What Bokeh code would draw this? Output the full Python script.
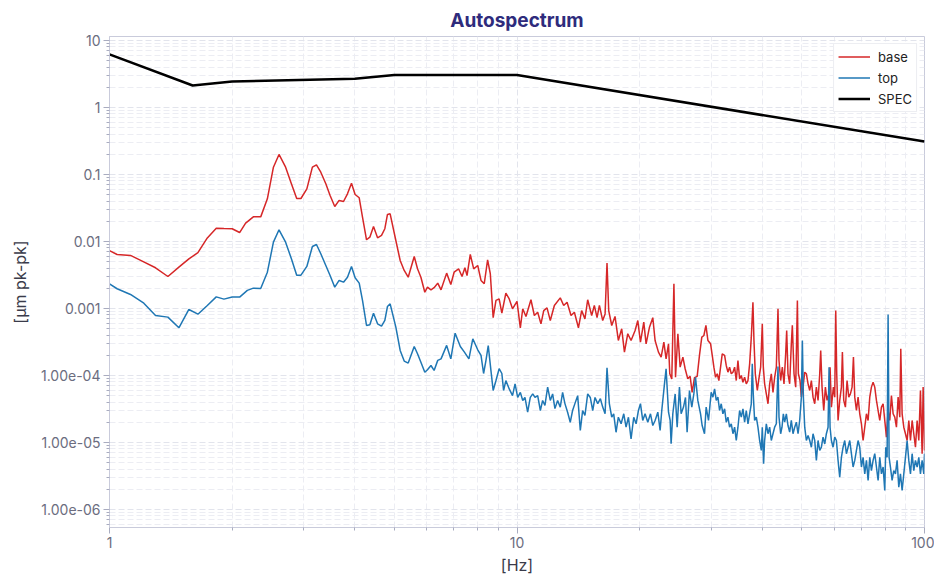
from bokeh.plotting import figure
from bokeh.models import Range1d, FixedTicker, CustomJSTickFormatter
from bokeh.embed import file_html
from bokeh.resources import INLINE

# ---------------- data ----------------
freq_base = [
    1.0, 1.044, 1.126, 1.203, 1.297, 1.391, 1.48, 1.566, 1.648, 1.738,
    1.828, 1.909, 2.0, 2.086, 2.158, 2.254, 2.35, 2.44, 2.525, 2.606,
    2.705, 2.795, 2.88, 2.95, 3.05, 3.147, 3.22, 3.30, 3.395, 3.478,
    3.571, 3.66, 3.752, 3.837, 3.925, 4.006, 4.10, 4.177, 4.273, 4.354,
    4.445, 4.548, 4.651, 4.739, 4.81, 4.883, 5.043, 5.168, 5.287, 5.408,
    5.595, 5.70, 5.81, 5.94, 6.03, 6.15, 6.26, 6.39, 6.51, 6.72,
    6.88, 7.01, 7.19, 7.33, 7.45, 7.54, 7.68, 7.83, 8.01, 8.16,
    8.31, 8.47, 8.60, 8.74, 8.88, 9.04, 9.18, 9.39, 9.57, 9.75,
    10.0, 10.19, 10.33, 10.52, 10.82, 11.03, 11.24, 11.45, 11.63, 11.85,
    12.07, 12.35, 12.77, 13.02, 13.27, 13.57, 13.83, 14.15, 14.41, 14.68,
    14.91, 15.25, 15.48, 15.72, 15.93, 16.23, 16.45, 16.63, 16.79, 17.08,
    17.40, 17.73, 18.07, 18.35, 18.70, 19.05, 19.49, 19.79, 20.09, 20.47,
    20.74, 21.14, 21.54, 21.82, 22.24, 22.58, 22.93, 23.22, 23.54, 23.71,
    23.98, 24.27, 24.49, 24.82, 25.14, 25.53, 25.86, 26.25, 26.60, 26.90,
    27.26, 27.68, 28.04, 28.41, 28.75, 29.08, 29.41, 29.86, 30.14, 30.42,
    30.71, 31.0, 31.29, 31.59, 31.89, 32.32, 32.62, 32.93, 33.24, 33.56,
    33.88, 34.20, 34.52, 34.85, 35.18, 35.51, 35.85, 36.19, 36.53, 36.88,
    37.23, 37.58, 37.93, 38.15, 38.44, 38.88, 39.17, 39.62, 39.99, 40.22,
    40.52, 40.91, 41.30, 41.69, 42.08, 42.48, 42.88, 43.29, 43.70, 43.95,
    44.36, 44.78, 45.21, 45.64, 45.90, 46.24, 46.68, 47.12, 47.39, 47.84,
    48.30, 48.76, 49.03, 49.49, 49.87, 50.34, 50.82, 51.30, 51.79, 52.28,
    52.77, 53.27, 53.78, 54.28, 54.80, 55.32, 55.63, 56.05, 56.59, 57.12,
    57.66, 58.21, 58.65, 59.09, 59.76, 60.22, 60.56, 60.90, 61.36, 61.94,
    62.53, 62.88, 63.36, 63.96, 64.56, 65.18, 65.80, 66.42, 66.93, 67.43,
    68.07, 68.71, 69.36, 70.02, 70.68, 71.35, 72.03, 72.71, 73.40, 74.09,
    74.79, 75.50, 76.22, 76.94, 77.67, 78.40, 79.15, 79.89, 80.65, 81.41,
    82.18, 82.96, 83.75, 84.54, 85.34, 86.15, 86.96, 87.46, 88.12, 88.96,
    89.80, 90.65, 91.51, 92.38, 93.25, 94.13, 95.02, 95.92, 96.83, 97.74,
    98.67, 99.23, 100.0,
]
amp_base = [
    7.3e-3, 6.4e-3, 6.2e-3, 5.1e-3, 4.05e-3, 3.0e-3, 4.14e-3, 5.5e-3, 6.8e-3, 1.13e-2,
    1.58e-2, 1.56e-2, 1.55e-2, 1.36e-2, 1.88e-2, 2.33e-2, 2.33e-2, 4.34e-2, 0.1285, 0.199,
    0.1285, 0.0726, 0.0438, 0.0438, 0.061, 0.1285, 0.1396, 0.108, 0.0726, 0.0486,
    0.0333, 0.041, 0.0395, 0.0515, 0.0741, 0.0503, 0.0449, 0.0231, 0.0106, 0.0116,
    0.0167, 0.01135, 0.0123, 0.0155, 0.0253, 0.0259, 0.01035, 0.0052, 0.00369, 0.00293,
    0.00597, 0.00391, 0.00293, 0.00175, 0.00208, 0.0019, 0.00204, 0.00239, 0.0019, 0.00337,
    0.00228, 0.00348, 0.00391, 0.0030, 0.00405, 0.0031, 0.0064, 0.00391, 0.00438, 0.00262,
    0.00234, 0.00533, 0.0033, 7.3e-4, 1.32e-3, 1.39e-3, 8.5e-4, 1.69e-3, 1.39e-3, 9.9e-4,
    1.28e-3, 5.15e-4, 9.9e-4, 7.6e-4, 1.35e-3, 7.86e-4, 8.8e-4, 5.9e-4, 9.3e-4, 1.02e-3,
    6.6e-4, 1.11e-3, 1.44e-3, 1.11e-3, 1.24e-3, 7.86e-4, 8.8e-4, 5.15e-4, 9.3e-4, 7.0e-4,
    1.35e-3, 7.86e-4, 1.11e-3, 7.3e-4, 1.11e-3, 6.6e-4, 8.3e-4, 4.75e-3, 9.3e-4, 5.57e-4,
    7.6e-4, 3.33e-4, 4.97e-4, 2.23e-4, 4.2e-4, 3.33e-4, 4.7e-4, 6.6e-4, 3.14e-4, 6.25e-4,
    2.97e-4, 5.26e-4, 7.3e-4, 3.33e-4, 2.23e-4, 1.88e-4, 3.14e-4, 1.77e-4, 2.97e-4, 1.06e-4,
    8.9e-5, 2.34e-3, 9.4e-5, 4.2e-4, 1.33e-4, 1.88e-4, 1.26e-4, 8.9e-5, 9.7e-5, 5.6e-5,
    9.3e-5, 9.7e-5, 1.99e-4, 3.73e-4, 3.95e-4, 5.6e-4, 3.33e-4, 2.97e-4, 1.99e-4, 1.33e-4,
    9.4e-5, 1.06e-4, 8.4e-5, 1.33e-4, 2.1e-4, 1.99e-4, 1.41e-4, 1.12e-4, 1.33e-4, 1.06e-4,
    1.12e-4, 1.33e-4, 8.4e-5, 1.67e-4, 8.9e-5, 1.0e-4, 7.9e-5, 9.4e-5, 7.5e-5, 8.4e-5,
    1.49e-4, 3.73e-4, 1.24e-3, 3.33e-4, 1.06e-4, 5.97e-5, 8.4e-5, 1.33e-4, 5.9e-4, 1.33e-4,
    7.5e-5, 5.3e-5, 3.78e-5, 7.5e-5, 1.06e-4, 5.6e-5, 9.4e-5, 1.33e-4, 9.9e-4, 1.67e-4,
    8.4e-5, 1.33e-4, 7.5e-5, 2.1e-4, 4.7e-4, 1.06e-4, 7.5e-5, 2.97e-4, 5.6e-4, 1.06e-4,
    6.7e-5, 1.32e-3, 1.06e-4, 8.4e-5, 4.75e-5, 6.7e-5, 1.12e-4, 1.06e-4, 7.5e-5, 5.97e-5,
    8.4e-5, 4.75e-5, 3.78e-5, 6.7e-5, 4.24e-5, 1.06e-4, 2.36e-4, 6.7e-5, 3.0e-5, 6.7e-5,
    4.24e-5, 5.3e-5, 1.33e-4, 3.37e-5, 6.7e-5, 4.75e-5, 9.3e-4, 1.06e-4, 2.13e-5, 4.24e-5,
    6.7e-5, 2.23e-4, 4.24e-5, 3.37e-5, 8.4e-5, 4.75e-5, 5.3e-5, 6.7e-5, 1.88e-4, 4.75e-5,
    3.0e-5, 4.75e-5, 2.68e-5, 1.9e-5, 1.07e-5, 1.69e-5, 2.68e-5, 2.13e-5, 4.75e-5, 6.7e-5,
    7.9e-5, 6.7e-5, 4.24e-5, 3.0e-5, 2.13e-5, 3.37e-5, 3.78e-5, 2.13e-5, 1.2e-5, 3.0e-5,
    2.13e-5, 5.0e-5, 2.68e-5, 2.39e-5, 1.69e-5, 4.75e-5, 2.39e-5, 2.5e-4, 2.68e-5, 1.69e-5,
    1.35e-5, 1.07e-5, 2.13e-5, 1.07e-5, 2.13e-5, 1.35e-5, 8.5e-6, 2.13e-5, 1.07e-5, 5.97e-5,
    6.8e-6, 6.7e-5, 7.6e-6,
]

freq_top = [
    1.0, 1.044, 1.126, 1.214, 1.297, 1.391, 1.48, 1.566, 1.648, 1.738,
    1.828, 1.909, 2.0, 2.086, 2.179, 2.254, 2.35, 2.44, 2.525, 2.606,
    2.705, 2.795, 2.88, 2.95, 3.05, 3.147, 3.22, 3.30, 3.395, 3.478,
    3.571, 3.66, 3.752, 3.837, 3.925, 4.006, 4.10, 4.177, 4.273, 4.354,
    4.445, 4.548, 4.651, 4.739, 4.81, 4.883, 5.043, 5.168, 5.287, 5.408,
    5.595, 5.70, 5.81, 5.94, 6.03, 6.15, 6.26, 6.39, 6.51, 6.72,
    6.88, 7.05, 7.26, 7.43, 7.62, 7.79, 8.01, 8.16, 8.28, 8.39,
    8.50, 8.63, 8.74, 8.88, 9.04, 9.18, 9.27, 9.39, 9.57, 9.75,
    9.89, 10.04, 10.19, 10.33, 10.46, 10.62, 10.78, 10.93, 11.07, 11.24,
    11.41, 11.56, 11.71, 11.89, 12.07, 12.23, 12.39, 12.58, 12.77, 12.94,
    13.11, 13.31, 13.51, 13.69, 13.87, 14.09, 14.30, 14.49, 14.68, 14.91,
    15.13, 15.34, 15.54, 15.78, 16.02, 16.23, 16.45, 16.63, 16.85, 17.08,
    17.27, 17.50, 17.73, 18.01, 18.28, 18.52, 18.77, 19.05, 19.34, 19.60,
    19.86, 20.09, 20.35, 20.62, 20.94, 21.26, 21.54, 21.82, 22.16, 22.45,
    22.66, 23.01, 23.22, 23.54, 23.76, 23.89, 24.12, 24.44, 24.72, 25.04,
    25.28, 25.62, 25.91, 26.15, 26.50, 26.85, 27.16, 27.42, 27.78, 28.21,
    28.47, 28.85, 29.12, 29.51, 29.96, 30.25, 30.54, 30.83, 31.12, 31.41,
    31.71, 32.01, 32.32, 32.62, 32.93, 33.24, 33.56, 33.88, 34.20, 34.52,
    34.85, 35.18, 35.51, 35.85, 36.19, 36.53, 36.88, 37.23, 37.58, 37.79,
    38.0, 38.29, 38.66, 39.02, 39.39, 39.77, 39.99, 40.29, 40.52, 40.91,
    41.30, 41.69, 42.08, 42.48, 42.88, 43.29, 43.70, 43.95, 44.36, 44.70,
    45.04, 45.38, 45.81, 46.24, 46.68, 47.12, 47.57, 48.02, 48.48, 48.94,
    49.40, 49.87, 50.15, 50.44, 50.82, 51.30, 51.79, 52.28, 52.77, 53.27,
    53.78, 54.28, 54.80, 55.32, 55.84, 56.37, 56.91, 57.44, 57.99, 58.32,
    58.65, 59.09, 59.65, 60.22, 60.79, 61.36, 61.94, 62.53, 63.12, 63.72,
    64.32, 64.93, 65.55, 66.17, 66.80, 67.43, 68.07, 68.71, 69.36, 70.02,
    70.68, 71.35, 72.03, 72.71, 73.40, 74.09, 74.79, 75.50, 76.22, 76.94,
    77.67, 78.40, 79.15, 79.89, 80.34, 80.95, 81.41, 81.87, 82.49, 83.27,
    84.06, 84.86, 85.66, 86.48, 87.29, 88.12, 88.96, 89.80, 90.65, 91.51,
    92.38, 93.25, 94.13, 95.02, 95.92, 96.83, 97.74, 98.67, 99.60, 100.0,
]
amp_top = [
    2.33e-3, 1.97e-3, 1.62e-3, 1.2e-3, 7.87e-4, 7.43e-4, 5.15e-4, 9.66e-4, 8.22e-4, 1.11e-3,
    1.49e-3, 1.38e-3, 1.48e-3, 1.48e-3, 1.86e-3, 2.01e-3, 1.99e-3, 3.48e-3, 9.77e-3, 1.494e-2,
    9.77e-3, 5.52e-3, 3.14e-3, 3.14e-3, 4.24e-3, 8.42e-3, 9.02e-3, 6.55e-3, 4.38e-3, 3.11e-3,
    2.08e-3, 2.62e-3, 2.47e-3, 2.93e-3, 4.24e-3, 2.87e-3, 2.39e-3, 1.32e-3, 5.57e-4, 5.71e-4,
    8.51e-4, 5.9e-4, 5.44e-4, 6.62e-4, 1.07e-3, 1.17e-3, 5.26e-4, 2.36e-4, 1.64e-4, 1.53e-4,
    2.71e-4, 2.11e-4, 1.58e-4, 1.12e-4, 1.22e-4, 1.41e-4, 1.19e-4, 1.68e-4, 1.77e-4, 2.81e-4,
    1.77e-4, 4.28e-4, 2.71e-4, 2.23e-4, 1.77e-4, 3.53e-4, 2.42e-4, 1.99e-4, 1.07e-4, 1.67e-4,
    2.8e-4, 1.19e-4, 5.97e-5, 8.4e-5, 1.26e-4, 1.07e-4, 5.97e-5, 8.4e-5, 6.3e-5, 5.0e-5,
    7.5e-5, 4.7e-5, 5.6e-5, 4.24e-5, 4.7e-5, 2.83e-5, 4.7e-5, 5.3e-5, 4.7e-5, 5.0e-5,
    3.0e-5, 4.24e-5, 3.57e-5, 6.7e-5, 4.24e-5, 5.3e-5, 3.2e-5, 4.24e-5, 3.37e-5, 5.6e-5,
    3.8e-5, 2.83e-5, 2.0e-5, 3.0e-5, 3.8e-5, 5.0e-5, 1.51e-5, 3.0e-5, 2.53e-5, 5.3e-5,
    4.7e-5, 3.0e-5, 4.7e-5, 3.8e-5, 4.5e-5, 3.37e-5, 2.68e-5, 1.3e-4, 3.8e-5, 2.38e-5,
    2.68e-5, 1.42e-5, 2.38e-5, 1.9e-5, 2.68e-5, 1.69e-5, 2.38e-5, 1.13e-5, 2.38e-5, 1.9e-5,
    3.0e-5, 3.8e-5, 2.13e-5, 2.68e-5, 2.0e-5, 2.68e-5, 1.79e-5, 2.13e-5, 2.83e-5, 1.51e-5,
    3.0e-5, 7.5e-5, 1.26e-4, 2.83e-5, 2.13e-5, 9.6e-6, 2.68e-5, 5.3e-5, 1.69e-5, 6.7e-5,
    2.68e-5, 3.37e-5, 4.7e-5, 1.42e-5, 5.97e-5, 3.37e-5, 5.3e-5, 9.4e-5, 4.24e-5, 2.68e-5,
    1.79e-5, 1.35e-5, 3.37e-5, 2.13e-5, 5.6e-5, 4.75e-5, 6.3e-5, 4.24e-5, 4.75e-5, 3.0e-5,
    3.78e-5, 2.68e-5, 3.18e-5, 2.01e-5, 2.39e-5, 1.69e-5, 1.9e-5, 1.35e-5, 1.69e-5, 1.07e-5,
    1.69e-5, 3.0e-5, 2.39e-5, 3.18e-5, 2.01e-5, 3.0e-5, 1.9e-5, 2.68e-5, 3.78e-5, 1.49e-4,
    5.3e-5, 2.13e-5, 2.39e-5, 1.69e-5, 1.07e-5, 7.6e-6, 1.69e-5, 4.8e-6, 1.07e-5, 1.9e-5,
    1.35e-5, 1.69e-5, 1.07e-5, 1.35e-5, 1.69e-5, 1.9e-5, 1.36e-4, 2.39e-5, 1.35e-5, 1.69e-5,
    2.68e-5, 2.01e-5, 2.68e-5, 1.79e-5, 1.43e-5, 2.13e-5, 1.35e-5, 1.69e-5, 2.01e-5, 1.35e-5,
    2.13e-5, 4.75e-5, 3.33e-4, 4.75e-5, 1.69e-5, 1.07e-5, 1.27e-5, 1.07e-5, 8.5e-6, 1.35e-5,
    1.07e-5, 5.4e-6, 1.07e-5, 7.6e-6, 8.5e-6, 1.2e-5, 9.5e-6, 1.35e-5, 1.69e-5, 1.33e-4,
    1.69e-5, 1.07e-5, 8.5e-6, 1.2e-5, 1.07e-5, 5.4e-6, 3.04e-6, 6.0e-6, 8.5e-6, 1.07e-5,
    6.8e-6, 8.5e-6, 1.07e-5, 6.8e-6, 4.3e-6, 5.4e-6, 7.6e-6, 1.07e-5, 8.5e-6, 4.3e-6,
    6.0e-6, 3.4e-6, 5.4e-6, 2.71e-6, 6.0e-6, 3.8e-6, 5.4e-6, 6.8e-6, 4.3e-6, 2.71e-6,
    6.0e-6, 3.4e-6, 4.3e-6, 1.92e-6, 8.5e-6, 6.0e-6, 8.1e-4, 6.0e-6, 4.3e-6, 2.71e-6,
    3.8e-6, 3.4e-6, 5.4e-6, 2.15e-6, 3.4e-6, 1.92e-6, 3.4e-6, 6.0e-6, 1.07e-5, 5.4e-6,
    3.4e-6, 6.8e-6, 3.8e-6, 5.4e-6, 4.3e-6, 6.0e-6, 3.4e-6, 5.4e-6, 3.4e-6, 6.8e-6,
]

spec_freq = [1.0, 1.6, 2.0, 4.0, 5.0, 10.0, 100.0]
spec_amp = [6.2, 2.13, 2.44, 2.68, 3.05, 3.05, 0.31]

x_ticks = [1, 10, 100]
x_tick_labels = ["1", "10", "100"]
y_ticks = [1e-6, 1e-5, 1e-4, 1e-3, 1e-2, 1e-1, 1, 10]
y_tick_labels = ["1.00e-06", "1.00e-05", "1.00e-04", "0.001", "0.01", "0.1", "1", "10"]

# ---------------- styling ----------------
FONT = "Inter"
RED = "#d62728"
BLUE = "#1f77b4"
FRAME = "#c9cbdb"
GRID_MAJOR = "#e2e4ec"
GRID_MINOR = "#ecedf3"

p = figure(
    x_axis_type="log", y_axis_type="log",
    x_range=Range1d(1, 100), y_range=Range1d(5.38e-7, 11.47),
    frame_width=815, frame_height=491,
    min_border_left=109, min_border_right=10, min_border_top=36, min_border_bottom=44,
    output_backend="svg", toolbar_location=None,
    title="Autospectrum",
)

p.title.text_font = FONT
p.title.text_font_size = "19px"
p.title.text_font_style = "bold"
p.title.text_color = "#2e2b7c"
p.title.align = "center"
p.title.standoff = 10

p.outline_line_color = FRAME
p.outline_line_width = 1
p.background_fill_color = "white"
p.border_fill_color = "white"

x_minor = [m * 10 ** e for e in range(0, 2) for m in range(2, 10)]
y_minor = [m * 10 ** e for e in range(-7, 2) for m in range(2, 10)]
p.xaxis.ticker = FixedTicker(ticks=x_ticks, minor_ticks=x_minor)
p.yaxis.ticker = FixedTicker(ticks=y_ticks, minor_ticks=y_minor)

fmt_code = """
const lt = Math.log10(tick);
for (let i = 0; i < vals.length; i++) {
  if (Math.abs(Math.log10(vals[i]) - lt) < 1e-6) { return labels[i]; }
}
return "";
"""
p.xaxis.formatter = CustomJSTickFormatter(args=dict(vals=x_ticks, labels=x_tick_labels), code=fmt_code)
p.yaxis.formatter = CustomJSTickFormatter(args=dict(vals=y_ticks, labels=y_tick_labels), code=fmt_code)

for ax in (p.xaxis, p.yaxis):
    ax.axis_line_color = FRAME
    ax.major_tick_line_color = "#a9acc0"
    ax.minor_tick_line_color = "#a9acc0"
    ax.major_tick_out = 6
    ax.major_tick_in = 0
    ax.minor_tick_out = 3
    ax.minor_tick_in = 0
    ax.major_label_text_font = FONT
    ax.major_label_text_font_size = "14px"
    ax.major_label_text_color = "#6b6d80"
    ax.axis_label_text_font = FONT
    ax.axis_label_text_font_size = "16px"
    ax.axis_label_text_font_style = "normal"
    ax.axis_label_text_color = "#3a3b4a"

p.xaxis.axis_label = "[Hz]"
p.yaxis.axis_label = "[µm pk-pk]"
p.xaxis.major_label_standoff = 3
p.xaxis.axis_label_standoff = 4
p.yaxis.major_label_standoff = 3
p.yaxis.axis_label_standoff = 8

for g in (p.xgrid, p.ygrid):
    g.grid_line_color = GRID_MAJOR
    g.grid_line_dash = "6 3"
    g.grid_line_width = 1
    g.minor_grid_line_color = GRID_MINOR
    g.minor_grid_line_dash = "6 3"
    g.minor_grid_line_width = 1

p.line(freq_base, amp_base, line_color=RED, line_width=1.5, legend_label="base")
p.line(freq_top, amp_top, line_color=BLUE, line_width=1.5, legend_label="top")
p.line(spec_freq, spec_amp, line_color="black", line_width=2.5, legend_label="SPEC")

lg = p.legend[0]
lg.location = "top_right"
lg.margin = 7
lg.padding = 4
lg.spacing = 4
lg.glyph_width = 32
lg.glyph_height = 17
lg.label_standoff = 8
lg.label_height = 17
lg.label_text_font = FONT
lg.label_text_font_size = "13px"
lg.label_text_color = "#222222"
lg.border_line_color = "#dcdde6"
lg.border_line_width = 1
lg.background_fill_color = "white"
lg.background_fill_alpha = 1.0

open("out.html", "w").write(file_html(p, INLINE))
